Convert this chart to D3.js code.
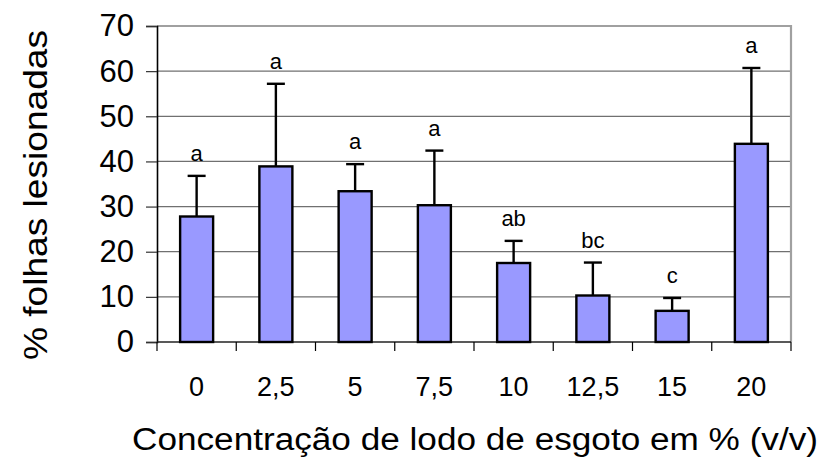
<!DOCTYPE html>
<html>
<head>
<meta charset="utf-8">
<script src="https://cdn.jsdelivr.net/npm/d3@7"></script>
<style>
  body { margin: 0; background: #fff; }
  svg text { font-family: "Liberation Sans", Arial, sans-serif; fill: #000; }
</style>
</head>
<body>
<svg id="chart" width="825" height="464"></svg>
<script>
// concentrations (x categories)
const categories = ["0", "2,5", "5", "7,5", "10", "12,5", "15", "20"];
// mean % of injured leaves
const means = [27.8, 38.9, 33.4, 30.3, 17.5, 10.3, 6.9, 43.9];
// upper error bar ends
const errTops = [36.8, 57.2, 39.4, 42.4, 22.4, 17.6, 9.75, 60.7];
// significance letters
const letters = ["a", "a", "a", "a", "ab", "bc", "c", "a"];
const yTicks = [0, 10, 20, 30, 40, 50, 60, 70];

const svg = d3.select("#chart");
const plotLeft = 157, plotRight = 791, plotTop = 26, plotBottom = 342;

const x = d3.scaleBand().domain(categories).range([plotLeft, plotRight]).paddingInner(0).paddingOuter(0);
const y = d3.scaleLinear().domain([0, 70]).range([plotBottom, plotTop]);

// gridlines
svg.append("g")
  .selectAll("line")
  .data(yTicks.filter(d => d > 0 && d < 70))
  .enter()
  .append("line")
  .attr("x1", plotLeft).attr("x2", plotRight)
  .attr("y1", d => y(d)).attr("y2", d => y(d))
  .attr("stroke", "#707070")
  .attr("stroke-width", 1.2);

// plot border top / right (gray)
svg.append("path")
  .attr("d", `M${plotLeft},${y(70)}H${plotRight}V${plotBottom}`)
  .attr("fill", "none")
  .attr("stroke", "#a0a0a0")
  .attr("stroke-width", 2.2);

// y axis
const yAxis = d3.axisLeft(y).tickValues(yTicks).tickSize(11).tickPadding(12);
const gy = svg.append("g").attr("transform", `translate(${plotLeft},0)`).call(yAxis);
gy.select(".domain").attr("stroke", "#000").attr("stroke-width", 1.6);
gy.selectAll(".tick line").attr("stroke", "#333").attr("stroke-width", 1.2);
gy.selectAll(".tick text").attr("font-size", 31)
  .attr("font-family", null);

// x axis: ticks at category boundaries
const boundaries = categories.map(c => x(c)).concat([x(categories[categories.length - 1]) + x.bandwidth()]);
const gx = svg.append("g");
gx.append("line")
  .attr("x1", plotLeft).attr("x2", plotRight)
  .attr("y1", plotBottom).attr("y2", plotBottom)
  .attr("stroke", "#222").attr("stroke-width", 1.6);
gx.selectAll(".bt")
  .data(boundaries)
  .enter()
  .append("line")
  .attr("x1", d => d).attr("x2", d => d)
  .attr("y1", plotBottom).attr("y2", plotBottom + 9)
  .attr("stroke", "#000").attr("stroke-width", 1.2);
gx.selectAll("text")
  .data(categories)
  .enter()
  .append("text")
  .attr("x", d => x(d) + x.bandwidth() / 2)
  .attr("y", 396)
  .attr("text-anchor", "middle")
  .attr("font-size", 27)
  .text(d => d);

// bars
const barW = 33;
svg.append("g")
  .selectAll("rect")
  .data(means)
  .enter()
  .append("rect")
  .attr("x", (d, i) => x(categories[i]) + x.bandwidth() / 2 - barW / 2)
  .attr("y", d => y(d))
  .attr("width", barW)
  .attr("height", d => y(0) - y(d))
  .attr("fill", "#9999ff")
  .attr("stroke", "#000")
  .attr("stroke-width", 2.4);

// error bars
const eg = svg.append("g").attr("stroke", "#000").attr("stroke-width", 2.4);
eg.selectAll(".stem")
  .data(errTops)
  .enter()
  .append("line")
  .attr("x1", (d, i) => x(categories[i]) + x.bandwidth() / 2)
  .attr("x2", (d, i) => x(categories[i]) + x.bandwidth() / 2)
  .attr("y1", (d, i) => y(means[i]))
  .attr("y2", d => y(d));
eg.selectAll(".cap")
  .data(errTops)
  .enter()
  .append("line")
  .attr("x1", (d, i) => x(categories[i]) + x.bandwidth() / 2 - 9)
  .attr("x2", (d, i) => x(categories[i]) + x.bandwidth() / 2 + 9)
  .attr("y1", d => y(d))
  .attr("y2", d => y(d));

// letters
svg.append("g")
  .selectAll("text")
  .data(letters)
  .enter()
  .append("text")
  .attr("x", (d, i) => x(categories[i]) + x.bandwidth() / 2)
  .attr("y", (d, i) => y(errTops[i]) - 15)
  .attr("text-anchor", "middle")
  .attr("font-size", 22)
  .text(d => d);

// axis titles
svg.append("text")
  .attr("x", 132)
  .attr("y", 450)
  .attr("font-size", 31)
  .attr("textLength", 686)
  .attr("lengthAdjust", "spacingAndGlyphs")
  .text("Concentração de lodo de esgoto em % (v/v)");

svg.append("text")
  .attr("transform", "translate(47,360) rotate(-90)")
  .attr("font-size", 34)
  .attr("textLength", 330)
  .attr("lengthAdjust", "spacingAndGlyphs")
  .text("% folhas lesionadas");
</script>
</body>
</html>
